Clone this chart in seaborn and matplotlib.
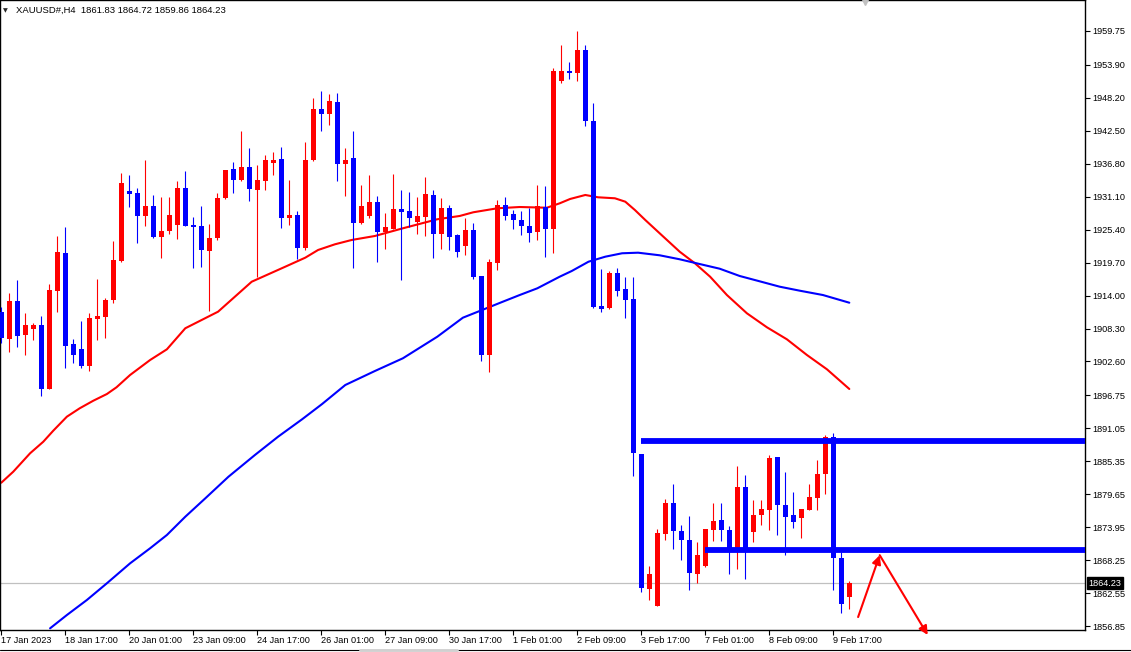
import matplotlib
matplotlib.use("Agg")
import matplotlib.pyplot as plt
from matplotlib.transforms import blended_transform_factory
from matplotlib.lines import Line2D
import pandas as pd
import seaborn as sns

# XAUUSD H4 bars, oldest first
opens = [1911.21, 1906.49, 1913.06, 1907.18, 1908.22, 1908.91, 1897.89, 1914.79, 1921.36, 1905.62,
         1904.75, 1901.87, 1909.94, 1910.35, 1913.23, 1919.97, 1932.08, 1931.73, 1927.81, 1929.49,
         1924.18, 1925.22, 1926.26, 1932.60, 1926.20, 1926.03, 1921.76, 1924.01, 1930.81, 1935.89,
         1934.04, 1936.23, 1932.31, 1933.87, 1936.98, 1937.62, 1927.47, 1927.93, 1922.28, 1937.44,
         1946.26, 1945.46, 1947.47, 1936.81, 1937.79, 1926.60, 1927.82, 1930.18, 1925.05, 1925.57,
         1928.97, 1928.62, 1926.78, 1927.58, 1931.39, 1924.70, 1929.14, 1924.47, 1922.63, 1925.34,
         1917.44, 1903.77, 1919.69, 1929.66, 1928.10, 1927.07, 1926.03, 1925.05, 1929.31, 1925.57,
         1951.10, 1952.83, 1952.49, 1956.47, 1944.19, 1912.19, 1911.85, 1917.90, 1915.13, 1913.40,
         1886.66, 1863.31, 1860.37, 1872.82, 1878.13, 1873.28, 1871.73, 1865.90, 1867.29, 1873.51,
         1875.19, 1873.46, 1870.28, 1880.89, 1873.17, 1876.05, 1876.91, 1886.08, 1877.78, 1876.05,
         1875.59, 1876.91, 1878.99, 1883.14, 1889.54, 1868.56, 1861.83]
highs = [1912.08, 1914.44, 1916.69, 1911.04, 1909.31, 1910.46, 1916.00, 1924.30, 1925.86, 1906.49,
         1909.60, 1910.98, 1916.86, 1913.57, 1923.43, 1935.19, 1934.85, 1932.60, 1937.44, 1931.39,
         1931.04, 1931.04, 1933.81, 1935.54, 1927.59, 1929.49, 1926.37, 1931.74, 1935.71, 1937.10,
         1942.46, 1939.52, 1936.58, 1938.31, 1938.83, 1939.69, 1934.04, 1928.68, 1940.56, 1948.17,
         1949.38, 1948.86, 1949.03, 1939.52, 1942.46, 1933.12, 1934.85, 1931.22, 1928.28, 1935.02,
         1932.25, 1931.91, 1931.04, 1934.50, 1932.25, 1930.87, 1929.66, 1924.64, 1927.41, 1926.55,
         1917.44, 1920.38, 1930.52, 1931.04, 1928.79, 1928.62, 1929.14, 1933.12, 1932.94, 1953.35,
         1957.33, 1954.39, 1959.75, 1957.33, 1947.30, 1918.59, 1918.24, 1918.76, 1917.21, 1917.21,
         1886.66, 1867.23, 1873.63, 1878.82, 1881.41, 1874.32, 1875.88, 1871.38, 1873.63, 1878.13,
         1878.13, 1874.15, 1884.52, 1882.97, 1878.65, 1878.65, 1886.43, 1886.08, 1883.49, 1880.03,
         1877.09, 1881.41, 1885.56, 1889.89, 1890.23, 1869.59, 1864.72]
lows = [1905.85, 1904.29, 1905.16, 1903.72, 1906.31, 1896.63, 1897.89, 1911.21, 1901.53, 1902.39,
        1901.41, 1901.01, 1906.31, 1906.72, 1912.77, 1919.86, 1929.37, 1923.14, 1926.03, 1924.01,
        1920.55, 1924.70, 1923.84, 1926.09, 1918.82, 1919.00, 1911.39, 1923.67, 1930.70, 1931.79,
        1933.87, 1930.41, 1917.27, 1932.31, 1934.91, 1925.74, 1926.26, 1920.38, 1921.94, 1937.27,
        1942.46, 1943.55, 1933.87, 1931.27, 1918.82, 1926.43, 1927.47, 1919.86, 1922.11, 1925.57,
        1916.75, 1925.91, 1924.70, 1924.36, 1920.55, 1922.11, 1921.93, 1920.72, 1921.07, 1916.92,
        1902.74, 1900.83, 1918.48, 1927.07, 1925.57, 1924.47, 1923.32, 1923.66, 1920.72, 1921.41,
        1950.76, 1951.45, 1951.10, 1943.32, 1911.85, 1911.15, 1911.67, 1913.92, 1910.12, 1882.79,
        1862.79, 1861.41, 1860.37, 1871.79, 1870.23, 1868.32, 1863.14, 1864.35, 1867.12, 1871.61,
        1871.61, 1865.90, 1866.77, 1865.04, 1871.44, 1874.32, 1873.46, 1872.59, 1869.19, 1873.86,
        1872.13, 1876.91, 1876.91, 1879.68, 1863.08, 1859.04, 1859.86]
closes = [1906.60, 1913.06, 1907.06, 1908.91, 1908.91, 1897.89, 1914.96, 1921.53, 1905.33, 1903.77,
          1901.87, 1910.12, 1910.46, 1913.23, 1920.15, 1933.46, 1931.62, 1927.81, 1929.49, 1924.18,
          1925.16, 1927.93, 1932.60, 1926.09, 1925.91, 1921.94, 1923.95, 1930.87, 1935.71, 1934.04,
          1936.23, 1932.49, 1933.98, 1937.44, 1937.44, 1927.47, 1927.93, 1922.28, 1937.44, 1946.26,
          1945.46, 1947.65, 1936.81, 1937.44, 1926.60, 1929.49, 1930.18, 1925.05, 1925.86, 1928.97,
          1928.51, 1927.47, 1927.76, 1931.56, 1924.70, 1929.14, 1924.18, 1921.59, 1925.34, 1917.27,
          1903.77, 1919.86, 1929.66, 1927.76, 1927.07, 1926.03, 1924.88, 1929.49, 1925.57, 1952.83,
          1952.83, 1952.49, 1956.47, 1944.19, 1912.02, 1911.67, 1917.90, 1914.79, 1913.23, 1886.77,
          1863.48, 1865.85, 1872.94, 1878.13, 1873.34, 1871.79, 1866.08, 1869.13, 1873.63, 1875.01,
          1873.46, 1869.88, 1880.89, 1870.28, 1876.05, 1877.09, 1885.91, 1877.78, 1875.76, 1874.90,
          1877.09, 1879.16, 1883.14, 1889.54, 1868.56, 1860.60, 1864.23]

# moving averages, sampled along the drawn lines (bar index, price)
ma_red_bar = [0, 1.5, 3.6, 5.25, 6.5, 8.2, 9.8, 11.5, 13.2, 14.4, 16.1, 18.6, 20.7, 23.0, 27.1,
              31.3, 35.5, 38.0, 39.6, 41.7, 43.8, 46.7, 50.2, 54.5, 57.3, 59.0, 62.0, 64.8, 68.2,
              69.8, 71.1, 73.0, 74.6, 76.7, 78.0, 79.2, 80.5, 82.3, 84.8, 86.7, 88.6, 90.7, 93.2,
              95.7, 98.2, 100.7, 103.2, 106]
ma_red_val = [1881.63, 1883.54, 1886.72, 1888.72, 1890.63, 1893.05, 1894.50, 1895.81, 1896.97,
              1898.13, 1900.26, 1902.85, 1904.70, 1908.34, 1911.21, 1916.39, 1918.99, 1920.55,
              1921.88, 1922.86, 1923.61, 1924.30, 1925.63, 1927.19, 1927.76, 1928.40, 1929.09,
              1929.31, 1929.19, 1929.95, 1930.70, 1931.39, 1930.99, 1930.82, 1930.23, 1928.79,
              1927.06, 1924.76, 1921.58, 1919.58, 1917.26, 1914.09, 1910.93, 1908.51, 1906.43,
              1903.72, 1901.25, 1897.84]
ma_blue_bar = [6.1, 8.2, 10.7, 13.2, 16.1, 18.6, 20.7, 23.0, 25.5, 28.4, 31.7, 34.6, 37.6, 40.1,
               43.0, 46.7, 50.2, 54.5, 57.7, 59.8, 62.7, 64.8, 67.0, 69.8, 71.3, 73.4, 75.5, 77.6,
               79.6, 82.3, 84.8, 87.3, 89.8, 92.3, 94.8, 97.3, 99.8, 102.7, 106]
ma_blue_val = [1856.45, 1858.75, 1861.35, 1864.24, 1867.69, 1870.29, 1872.59, 1875.75, 1878.93,
               1882.67, 1886.42, 1889.59, 1892.60, 1895.24, 1898.53, 1900.95, 1903.15, 1906.88,
               1910.17, 1911.33, 1912.94, 1914.09, 1915.25, 1917.26, 1918.24, 1919.85, 1920.72,
               1921.31, 1921.41, 1920.96, 1920.27, 1919.45, 1918.64, 1917.38, 1916.46, 1915.53,
               1914.84, 1914.09, 1912.76]

# user drawn levels and the arrow path
level_price = [1888.84, 1869.99]
level_start = [80, 88]
arrow_bar = [107.1, 109.8, 115.8]
arrow_price = [1858.4, 1869.1, 1855.3]

price_ticks = [1959.75, 1953.90, 1948.20, 1942.50, 1936.80, 1931.10, 1925.40, 1919.70, 1914.00,
               1908.30, 1902.60, 1896.75, 1891.05, 1885.35, 1879.65, 1873.95, 1868.25, 1862.55,
               1856.85]
time_labels = ["17 Jan 2023", "18 Jan 17:00", "20 Jan 01:00", "23 Jan 09:00", "24 Jan 17:00",
               "26 Jan 01:00", "27 Jan 09:00", "30 Jan 17:00", "1 Feb 01:00", "2 Feb 09:00",
               "3 Feb 17:00", "7 Feb 01:00", "8 Feb 09:00", "9 Feb 17:00"]
last_price = 1864.23

sns.set_style("white")
plt.rcParams["font.family"] = ["Liberation Sans", "DejaVu Sans"]

df = pd.DataFrame({"open": opens, "high": highs, "low": lows, "close": closes})
df["bar"] = range(len(df))
df["color"] = ["#ff0000" if c >= o else "#0000ff" for o, c in zip(df["open"], df["close"])]

fig = plt.figure(figsize=(11.31, 6.52), dpi=100)
ax = fig.add_axes([0, 22 / 652, 1085 / 1131, 630 / 652])
ax.set_xlim(-0.16, 135.46)
ax.set_ylim(1856.16, 1965.11)

# bid line
ax.axhline(last_price, color="#c0c0c0", lw=0.9, zorder=1)

# moving averages
sns.lineplot(x=ma_red_bar, y=ma_red_val, color="#ff0000", lw=1.5, ax=ax, zorder=2)
sns.lineplot(x=ma_blue_bar, y=ma_blue_val, color="#0000ff", lw=1.5, ax=ax, zorder=2)

# candles
ax.vlines(df["bar"], df["low"], df["high"], colors=df["color"], lw=0.8, zorder=3)
body_lo = df[["open", "close"]].min(axis=1)
body_h = (df["close"] - df["open"]).abs().clip(lower=0.3)
ax.bar(df["bar"], body_h, bottom=body_lo, width=0.62, color=df["color"], linewidth=0, zorder=4)

# drawn levels
for p, s in zip(level_price, level_start):
    ax.hlines(p, s, 135.46, color="#0000ff", lw=4.2, zorder=5)

# arrows
for i in range(len(arrow_bar) - 1):
    ax.annotate("", xy=(arrow_bar[i + 1], arrow_price[i + 1]),
                xytext=(arrow_bar[i], arrow_price[i]),
                arrowprops=dict(arrowstyle="-|>", color="#ff0000", lw=1.5,
                                mutation_scale=13, shrinkA=0, shrinkB=0),
                annotation_clip=False, zorder=6)

# axes styling
for sp in ax.spines.values():
    sp.set_color("black")
    sp.set_linewidth(1)
ax.yaxis.tick_right()
ax.set_yticks(price_ticks)
ax.set_yticklabels([f"{v:.2f}" for v in price_ticks])
ax.tick_params(axis="y", right=True, length=3.5, width=0.8, pad=1.5, labelsize=6.6, colors="black")
ax.set_xticks(range(0, 8 * len(time_labels), 8))
ax.set_xticklabels(time_labels)
ax.tick_params(axis="x", bottom=True, length=3.5, width=0.8, pad=0.8, labelsize=6.6, colors="black")
for lab in ax.get_xticklabels():
    lab.set_horizontalalignment("left")
ax.set_xlabel("")
ax.set_ylabel("")
ax.grid(False)

# price tag for the last price
tr = blended_transform_factory(ax.transAxes, ax.transData)
ax.text(1.003, last_price, f"{last_price:.2f}", transform=tr, color="white", fontsize=6.6,
        va="center", ha="left", bbox=dict(facecolor="black", edgecolor="black", pad=1.2),
        zorder=10, clip_on=False)

# chart shift marker
ax.plot([108], [1965.11], marker="v", ms=7, color="#c0c0c0", clip_on=False, zorder=10)

# header
fig.text(3 / 1131, 1 - 12 / 652, "\u25bc", fontsize=4.5, family="DejaVu Sans", va="baseline")
fig.text(16 / 1131, 1 - 13 / 652, "XAUUSD#,H4  1861.83 1864.72 1859.86 1864.23",
         fontsize=6.8, va="baseline", color="black")

# bottom strip
fig.add_artist(Line2D([0, 1], [2 / 652, 2 / 652], color="black", lw=0.8))
fig.add_artist(Line2D([360 / 1131, 457 / 1131], [2 / 652, 2 / 652], color="#d0d0d0", lw=2))

fig.savefig("out.png", dpi=100)
